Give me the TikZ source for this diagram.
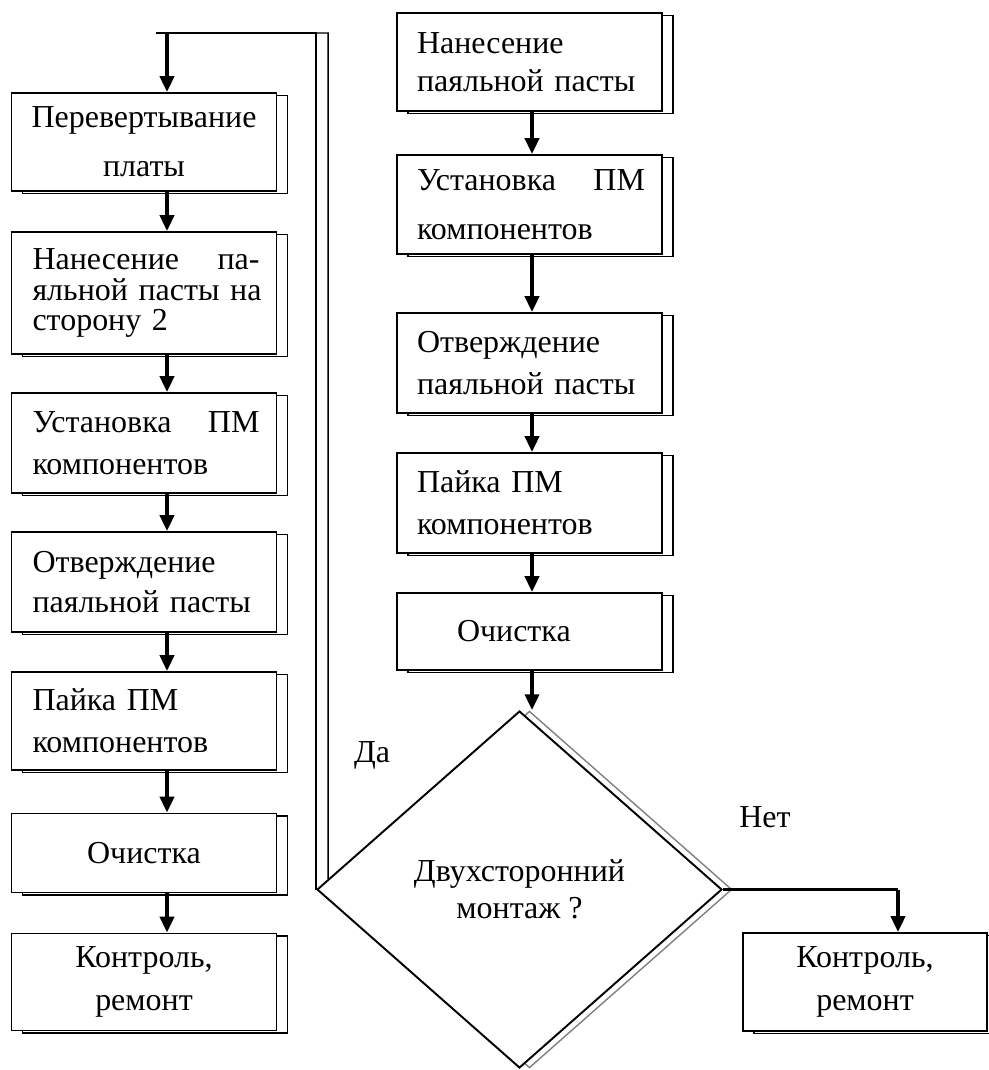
\documentclass[tikz,border=0pt]{standalone}
\usepackage{fontspec}
\setmainfont{Liberation Serif}
\usetikzlibrary{arrows.meta,shapes.geometric,shadows,calc}

\newcommand{\boxfont}[1]{\fontsize{18.2}{#1}\selectfont}

\begin{document}
\begin{tikzpicture}[x=0.02cm, y=-0.02cm,
    stage/.style={rectangle, draw, line width=1.1pt, fill=white,
        minimum height=#1, text width=4.62cm, inner xsep=0.34cm, inner ysep=0pt,
        align=left, font=\boxfont{24},
        general shadow={shadow xshift=0.22cm, shadow yshift=-0.05cm,
            draw=black, fill=white, line width=0.8pt}},
    decide/.style={diamond, draw, line width=1.1pt, fill=white,
        minimum width=8.1cm, minimum height=7.14cm, inner sep=0pt,
        align=center, font=\boxfont{21},
        general shadow={shadow xshift=0.2cm, draw=gray, fill=white, line width=0.8pt}},
    flow/.style={line width=2pt, -{Triangle[length=9pt,width=8pt]}},
    link/.style={line width=1.3pt},
    echo/.style={line width=0.8pt},
    tag/.style={font=\boxfont{22}}]
    \useasboundingbox (0,0) rectangle (988,1070);

    % left column
    \node[stage=1.96cm, align=center, font=\boxfont{28}] (b1) at (144,142) {Перевертывание\\платы};
    \node[stage=2.44cm, font=\boxfont{17.5}] (b2) at (144,293) {\hspace*{0.08cm}Нанесение\hfill па-\hspace*{0.3cm}\\\mbox{\hspace*{0.08cm}яльной пасты на}\\\hspace*{0.08cm}сторону 2};
    \node[stage=2cm] (b3) at (144,443) {\hspace*{0.08cm}Установка\hfill ПМ\hspace*{0.3cm}\\\hspace*{0.08cm}компонентов};
    \node[stage=2cm, font=\boxfont{23}] (b4) at (144,582) {\hspace*{0.08cm}Отверждение\\\hspace*{0.08cm}паяльной пасты};
    \node[stage=1.96cm] (b5) at (144,721) {\hspace*{0.08cm}Пайка ПМ\\\hspace*{0.08cm}компонентов};
    \node[stage=1.58cm, align=center] (b6) at (144,853) {Очистка};
    \node[stage=1.94cm, align=center] (b7) at (144,982) {Контроль,\\ремонт};

    % right column
    \node[stage=1.96cm, font=\boxfont{21.5}] (r1) at (529.5,62) {\hspace*{0.06cm}Нанесение\\\hspace*{0.06cm}паяльной пасты};
    \node[stage=1.98cm, font=\boxfont{28}] (r2) at (529.5,204.5) {\hspace*{0.06cm}Установка\hfill ПМ\hspace*{0.2cm}\\\hspace*{0.06cm}компонентов};
    \node[stage=2cm] (r3) at (529.5,363) {\hspace*{0.06cm}Отверждение\\\hspace*{0.06cm}паяльной пасты};
    \node[stage=2cm] (r4) at (529.5,503) {\hspace*{0.06cm}Пайка ПМ\\\hspace*{0.06cm}компонентов};
    \node[stage=1.54cm] (r5) at (529.5,631.5) {\hspace*{0.86cm}Очистка};

    \node[decide] (dia) at (519.5,889.5) {Двухсторонний\\монтаж ?};
    \node[stage=1.96cm, text width=4.2cm, align=center] (ctrl) at (865,982) {Контроль,\\ремонт};

    \node[tag] (yes) at (372,755) {Да};
    \node[tag] (no) at (765,817) {Нет};

    \foreach \a/\b in {b1/b2,b2/b3,b3/b4,b4/b5,b5/b6,b6/b7}
        \draw[flow] ([xshift=0.46cm]\a.south) -- ([xshift=0.46cm]\b.north);
    \foreach \a/\b in {r1/r2,r2/r3,r3/r4,r4/r5}
        \draw[flow] ([xshift=0.05cm]\a.south) -- ([xshift=0.05cm]\b.north);
    \draw[flow] ([xshift=0.05cm]r5.south) -- ([xshift=0.05cm]r5.south |- dia.north);

    % back to the flip
    \coordinate (loop) at ([xshift=0.46cm]b1.north |- 0,33);
    \draw[link] (dia.west) |- ([xshift=-0.22cm]loop);
    \draw[flow] (loop) -- ([xshift=0.46cm]b1.north);
    \draw[echo] (dia.west |- loop) -- ([xshift=0.24cm]dia.west |- loop) -- ($(dia.west)!0.059!(dia.north)$);

    % no
    \coordinate (bend) at ([xshift=0.66cm]ctrl.north |- dia.east);
    \draw[link] (dia.east) -- (bend);
    \draw[flow] (bend) -- ([xshift=0.66cm]ctrl.north);
\end{tikzpicture}
\end{document}
